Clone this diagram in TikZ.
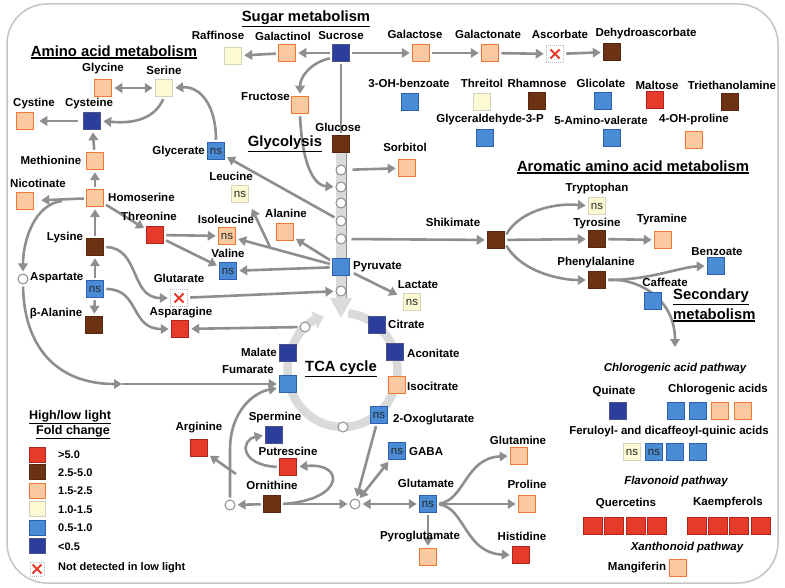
\documentclass[tikz,border=0pt]{standalone}
\usepackage{fontspec}
\setmainfont{Liberation Sans}
\usetikzlibrary{arrows.meta,calc,backgrounds}
\definecolor{cR}{HTML}{E63B2A}
\definecolor{cRd}{HTML}{B0241C}
\definecolor{cB}{HTML}{6B3314}
\definecolor{cBd}{HTML}{55280F}
\definecolor{cO}{HTML}{FAC9A0}
\definecolor{cOd}{HTML}{EF7A35}
\definecolor{cC}{HTML}{FCFAD3}
\definecolor{cCd}{HTML}{D5D3BC}
\definecolor{cL}{HTML}{4A8BD6}
\definecolor{cLd}{HTML}{2E60B0}
\definecolor{cD}{HTML}{2B3E9B}
\definecolor{cDd}{HTML}{4A5288}
\definecolor{ag}{HTML}{8E8E8E}
\definecolor{rg}{HTML}{DADADA}
\definecolor{bdc}{HTML}{C4C4C4}
\newcommand\myul[1]{\leavevmode\vtop{\hbox{#1}\kern1.2pt\hrule height 1.1pt}}
\tikzset{
 sq/.style={rectangle, minimum width=17.5pt, minimum height=17.5pt, inner sep=0pt, line width=1pt, font=\fontsize{11.5}{11}\selectfont, text=black!85},
 bR/.style={sq, fill=cR, draw=cRd},
 bB/.style={sq, fill=cB, draw=cBd},
 bO/.style={sq, fill=cO, draw=cOd},
 bC/.style={sq, fill=cC, draw=cCd},
 bL/.style={sq, fill=cL, draw=cLd},
 bD/.style={sq, fill=cD, draw=cDd},
 bX/.style={sq, fill=white, draw=gray!55, densely dotted,
   path picture={\draw[cR, line width=2pt, solid]
     ([shift={(-4.5,-4.5)}]path picture bounding box.center) -- ([shift={(4.5,4.5)}]path picture bounding box.center)
     ([shift={(-4.5,4.5)}]path picture bounding box.center) -- ([shift={(4.5,-4.5)}]path picture bounding box.center);}},
 lab/.style={inner sep=0pt, font=\bfseries\fontsize{11.5}{13}\selectfont},
 ttl/.style={inner sep=0pt, font=\bfseries\fontsize{14.8}{16}\selectfont},
 ital/.style={inner sep=0pt, font=\bfseries\itshape\fontsize{11.5}{13}\selectfont},
 lgt/.style={inner sep=0pt, anchor=west, font=\bfseries\fontsize{11}{13}\selectfont},
 cir/.style={circle, draw=ag, fill=white, line width=1pt, minimum size=10pt, inner sep=0pt},
 con/.style={draw=ag, line width=2.6pt, shorten <=2pt, shorten >=2pt},
 arr/.style={con, -{Triangle[length=8pt,width=9.5pt]}},
 darr/.style={con, {Triangle[length=8pt,width=9.5pt]}-{Triangle[length=8pt,width=9.5pt]}},
}
\begin{document}
\begin{tikzpicture}[x=1pt,y=-1pt]
\useasboundingbox (0,0) rectangle (785,588);
\draw[bdc, line width=1.5pt, rounded corners=40pt] (7,4) rectangle (778,583);

% ---------- titles
\node[ttl] (tSug) at (306,19) {\myul{Sugar metabolism}};
\node[ttl] (tAmi) at (114,52) {\myul{Amino acid metabolism}};
\node[ttl] (tGly) at (285,144) {\myul{Glycolysis}};
\node[ttl] (tTca) at (341,369) {\myul{TCA cycle}};
\node[ttl] (tAro) at (633,167) {\myul{Aromatic amino acid metabolism}};
\node[ttl, anchor=west] (tSec1) at (673,297) {\myul{Secondary}};
\node[ttl, anchor=west] (tSec2) at (673,315) {\myul{metabolism}};

% ---------- sugar
\node[bC] (raf) at (233,56) {};   \node[lab] (lraf) at (218,35) {Raffinose};
\node[bO] (gal) at (287,53) {};   \node[lab] (lgal) at (283,36) {Galactinol};
\node[bD] (suc) at (341,53) {};   \node[lab] (lsuc) at (341,36) {Sucrose};
\node[bO] (gla) at (421,53) {};   \node[lab] (lgla) at (415,34) {Galactose};
\node[bO] (galn) at (490,53) {};  \node[lab] (lgaln) at (488,34) {Galactonate};
\node[bX] (asc) at (555,54) {};   \node[lab] (lasc) at (560,34) {Ascorbate};
\node[bB] (dha) at (612,52) {};   \node[lab] (ldha) at (646,34) {Dehydroascorbate};
\node[bO] (fru) at (300,105) {};  \node[lab, anchor=east] (lfru) at (290,97) {Fructose};
\node[bB] (glc) at (341,144) {};  \node[lab] (lglc) at (338,127) {Glucose};
\node[bO] (sor) at (407,168) {};  \node[lab] (lsor) at (405,147) {Sorbitol};

% ---------- misc metabolites
\node[bL] (ohb) at (410,102) {};  \node[lab] (lohb) at (409,83) {3-OH-benzoate};
\node[bC] (thi) at (482,102) {};  \node[lab] (lthi) at (482,83) {Threitol};
\node[bB] (rha) at (537,101) {};  \node[lab] (lrha) at (537,83) {Rhamnose};
\node[bL] (gli) at (603,101) {};  \node[lab] (lgli) at (601,83) {Glicolate};
\node[bR] (mlt) at (655,100) {};  \node[lab] (lmlt) at (657,85) {Maltose};
\node[bB] (tea) at (730,102) {};  \node[lab] (ltea) at (732,85) {Triethanolamine};
\node[bL] (g3p) at (485,138) {};  \node[lab] (lg3p) at (490,120) {Glyceraldehyde-3-P};
\node[bL] (ava) at (612,138) {};  \node[lab] (lava) at (601,120) {5-Amino-valerate};
\node[bO] (ohp) at (694,140) {};  \node[lab] (lohp) at (694,120) {4-OH-proline};

% ---------- amino acids
\node[bO] (gly) at (103,88) {};   \node[lab] (lgly) at (103,69) {Glycine};
\node[bC] (ser) at (164,88) {};   \node[lab] (lser) at (164,70) {Serine};
\node[bO] (cyt) at (25,121) {};   \node[lab] (lcyt) at (34,104) {Cystine};
\node[bD] (cys) at (92,121) {};   \node[lab] (lcys) at (89,104) {Cysteine};
\node[bO] (met) at (95,161) {};   \node[lab] (lmet) at (51,160) {Methionine};
\node[bO] (nic) at (25,201) {};   \node[lab] (lnic) at (38,183) {Nicotinate};
\node[bO] (hom) at (95,198) {};   \node[lab, anchor=west] (lhom) at (108,197) {Homoserine};
\node[bL] (glyc) at (216,151) {ns}; \node[lab, anchor=east] (lglyc) at (205,152) {Glycerate};
\node[bC] (leu) at (240,194) {ns}; \node[lab] (lleu) at (231,176) {Leucine};
\node[bR] (thr) at (155,235) {};  \node[lab] (lthr) at (149,216) {Threonine};
\node[bO] (ile) at (227,236) {ns}; \node[lab] (lile) at (226,219) {Isoleucine};
\node[bL] (val) at (228,271) {ns}; \node[lab] (lval) at (228,253) {Valine};
\node[bB] (lys) at (95,247) {};   \node[lab] (llys) at (65,238) {Lysine};
\node[cir] (aspc) at (23,279) {}; \node[lab, anchor=west] (lasp) at (30,278) {Aspartate};
\node[bL] (asp) at (95,289) {ns};
\node[bB] (bal) at (94,325) {};   \node[lab] (lbal) at (56,314) {β-Alanine};
\node[bX] (xglu) at (179,298) {}; \node[lab] (lxglu) at (179,278) {Glutarate};
\node[bR] (asn) at (180,329) {};  \node[lab] (lasn) at (181,313) {Asparagine};
\node[bO] (ala) at (285,232) {};  \node[lab] (lala) at (286,213) {Alanine};

% ---------- glycolysis column
\node[cir] (c1) at (341,170) {};
\node[cir] (c2) at (341,187) {};
\node[cir] (c3) at (341,203) {};
\node[cir] (c4) at (341,221) {};
\node[cir] (c5) at (341,239) {};
\node[bL] (pyr) at (341,267) {};  \node[lab, anchor=west] (lpyr) at (353,267) {Pyruvate};
\node[cir] (c6) at (341,291) {};
\node[bC] (lac) at (412,302) {ns}; \node[lab] (llac) at (418,285) {Lactate};

% ---------- aromatic
\node[bB] (shi) at (496,240) {};  \node[lab] (lshi) at (453,222) {Shikimate};
\node[bC] (try) at (597,206) {ns}; \node[lab] (ltry) at (597,189) {Tryptophan};
\node[bB] (tyr) at (597,239) {};  \node[lab] (ltyr) at (597,224) {Tyrosine};
\node[bO] (tyra) at (663,240) {}; \node[lab] (ltyra) at (662,220) {Tyramine};
\node[bB] (phe) at (597,280) {};  \node[lab] (lphe) at (596,263) {Phenylalanine};
\node[bL] (ben) at (716,266) {};  \node[lab] (lben) at (717,252) {Benzoate};
\node[bL] (caf) at (653,301) {};  \node[lab] (lcaf) at (665,282) {Caffeate};
\coordinate (se) at (675,349);

% ---------- TCA
\coordinate (tca) at (342.5,370);
\node[bD] (cit) at (377,325) {};  \node[lab, anchor=west] (lcit) at (388,324) {Citrate};
\node[bD] (aco) at (395,352) {};  \node[lab, anchor=west] (laco) at (407,353) {Aconitate};
\node[bO] (iso) at (397,385) {};  \node[lab, anchor=west] (liso) at (407,386) {Isocitrate};
\node[bL] (og) at (379,415) {ns}; \node[lab, anchor=west] (log) at (393,420) {2-Oxoglutarate};
\node[bD] (mal) at (288,353) {};  \node[lab, anchor=east] (lmal) at (277,352) {Malate};
\node[bL] (fum) at (288,384) {};  \node[lab, anchor=east] (lfum) at (274,370) {Fumarate};
\node[cir] (rc1) at (305,327) {};
\node[cir] (rc2) at (343,427) {};

% ---------- bottom
\node[bR] (arg) at (199,448) {};  \node[lab] (larg) at (199,428) {Arginine};
\node[bD] (spm) at (274,435) {};  \node[lab] (lspm) at (275,418) {Spermine};
\node[bR] (put) at (288,467) {};  \node[lab] (lput) at (288,451) {Putrescine};
\node[bB] (orn) at (272,504) {};  \node[lab] (lorn) at (272,485) {Ornithine};
\node[cir] (lc) at (230,505) {};
\node[cir] (mc) at (355,504) {};
\node[bL] (gaba) at (397,451) {ns}; \node[lab, anchor=west] (lgaba) at (409,452) {GABA};
\node[bL] (glm) at (428,504) {ns}; \node[lab] (lglm) at (426,483) {Glutamate};
\node[bO] (pyg) at (428,557) {};  \node[lab] (lpyg) at (420,537) {Pyroglutamate};
\node[bO] (gln) at (519,456) {};  \node[lab] (lgln) at (518,440) {Glutamine};
\node[bO] (pro) at (527,504) {};  \node[lab] (lpro) at (527,484) {Proline};
\node[bR] (his) at (521,555) {};  \node[lab] (lhis) at (522,536) {Histidine};

% ---------- secondary metabolism
\node[ital] (tchl) at (675,369) {Chlorogenic acid pathway};
\node[lab] (lqui) at (614,391) {Quinate};
\node[bD] (qui) at (618,411) {};
\node[lab] (lcha) at (718,390) {Chlorogenic acids};
\node[bL] (ch1) at (676,411) {};
\node[bL] (ch2) at (698,411) {};
\node[bO] (ch3) at (720,411) {};
\node[bO] (ch4) at (743,411) {};
\node[lab] (lfq) at (669,432) {Feruloyl- and dicaffeoyl-quinic acids};
\node[bC] (fq1) at (632,452) {ns};
\node[bL] (fq2) at (654,452) {ns};
\node[bL] (fq3) at (675,452) {};
\node[bL] (fq4) at (698,452) {};
\node[ital] (tfla) at (676,482) {Flavonoid pathway};
\node[lab] (lque) at (626,503) {Quercetins};
\node[lab] (lkae) at (728,503) {Kaempferols};
\foreach \i/\xx in {1/593,2/614,3/636,4/657}
  \node[bR, minimum width=19pt] (q\i) at (\xx,526) {};
\foreach \i/\xx in {1/697,2/718,3/739,4/761}
  \node[bR, minimum width=19pt] (k\i) at (\xx,526) {};
\node[ital] (txan) at (687,548) {Xanthonoid pathway};
\node[lab] (lman) at (637,568) {Mangiferin};
\node[bO] (man) at (678,568) {};

% ---------- legend
\node[inner sep=0pt, font=\bfseries\fontsize{12.5}{14}\selectfont] (lg0a) at (70,417) {\myul{High/low light}};
\node[inner sep=0pt, font=\bfseries\fontsize{12.5}{14}\selectfont] (lg0b) at (73,432) {\myul{Fold change}};
\node[bR, minimum width=16pt, minimum height=15pt] (lg1) at (37,455) {}; \node[lgt] (lt1) at (58,455) {>5.0};
\node[bB, minimum width=16pt, minimum height=15pt] (lg2) at (37,472) {}; \node[lgt] (lt2) at (58,473) {2.5-5.0};
\node[bO, minimum width=16pt, minimum height=15pt] (lg3) at (37,491) {}; \node[lgt] (lt3) at (58,491) {1.5-2.5};
\node[bC, minimum width=16pt, minimum height=15pt] (lg4) at (37,509) {}; \node[lgt] (lt4) at (58,510) {1.0-1.5};
\node[bL, minimum width=16pt, minimum height=15pt] (lg5) at (37,528) {}; \node[lgt] (lt5) at (58,528) {0.5-1.0};
\node[bD, minimum width=16pt, minimum height=15pt] (lg6) at (37,546) {}; \node[lgt] (lt6) at (58,547) {<0.5};
\node[bX, minimum width=14pt, minimum height=14pt] (lg7) at (37,569) {}; \node[lgt] (lt7) at (58,568) {Not detected in low light};

% ---------- connectors (behind)
\begin{scope}[on background layer]
\fill[rg] (335.5,152) rectangle (346.5,299);
\draw[ag, line width=0.8pt] (346.5,152) -- (346.5,299);
\fill[rg] (330,298) -- (352,298) -- (341,318) -- cycle;
\draw[rg, line width=8.5pt, -{Triangle[length=10pt,width=18pt]}] ([shift={(-84:55 and 57)}]tca) arc[start angle=-84, end angle=250, x radius=55, y radius=57];

% sugar
\draw[arr] (suc) -- (gal);
\draw[arr] (gal) -- (raf);
\draw[arr] (suc) -- (gla);
\draw[arr] (gla) -- (galn);
\draw[arr] (galn) -- (asc);
\draw[arr] (asc) -- (dha);
\draw[con] (suc) -- (glc);
\draw[arr] ($(suc.west)+(0,5)$) .. controls (312,62) and (300,76) .. (fru.north);
\draw[arr] (fru.south) .. controls (302,160) and (312,185) .. (c2.west);
\draw[arr, shorten <=6pt] (c1) -- (sor);
\draw[arr] (c4) -- (glyc);
\draw[arr, shorten <=5pt] (c5) -- (shi);

% pyruvate
\draw[arr] (pyr) -- (ala);
\draw[arr] (pyr) -- (ile);
\draw[arr] (pyr) -- (val);
\draw[arr, shorten <=4pt, shorten >=6pt] (pyr) -- (lac);
\coordinate (lbs) at (270,247);
\coordinate (lbe) at (251,207);
\draw[arr, shorten <=0pt] (lbs) -- (lbe);

% amino acids
\draw[arr] (glyc.north) .. controls (216,105) and (200,86) .. (ser.east);
\draw[arr] (ser.south) .. controls (155,118) and (135,124) .. (cys.east);
\draw[darr] (gly) -- (ser);
\draw[arr, shorten <=5pt, shorten >=5pt] (cys) -- (cyt);
\draw[arr] (hom) -- (met);
\draw[arr] (met) -- (cys);
\draw[arr, shorten >=7pt] (hom) -- (nic);
\draw[arr] (hom) -- (thr);
\draw[arr] (lys) -- (hom);
\draw[arr] (asp) -- (lys);
\draw[arr] (asp) -- (bal);
\draw[arr] (thr) -- (ile);
\draw[arr] (thr) -- (val);
\draw[arr] (lys.east) .. controls (140,248) and (130,298) .. (xglu.west);
\draw[arr] (asp.east) .. controls (140,289) and (130,329) .. (asn.west);
\draw[arr] (xglu) -- (c6);
\draw[arr] (rc1) -- (asn);
\coordinate (hb) at (62,201);
\draw[arr, shorten <=0pt] (hb) .. controls (35,204) and (23,240) .. (aspc.north);
\coordinate (am) at (122,384);
\draw[arr, shorten >=0pt] (aspc.south) .. controls (24,345) and (55,384) .. (am);
\draw[arr, shorten <=0pt] (am) -- (fum.west);

% bottom
\draw[arr] (orn) -- (lc);
\coordinate (lv) at (230,450);
\draw[arr] (lc.north) -- (lv) .. controls (230,410) and (255,392) .. ($(fum.west)+(0,4)$);
\coordinate (ags) at (236,474);
\draw[arr, shorten <=0pt] (ags) -- (arg);
\draw[arr] (orn.east) .. controls (345,500) and (345,462) .. (put.east);
\draw[arr] (put.west) .. controls (240,465) and (240,440) .. (spm.west);
\draw[arr] (orn) -- (mc);
\draw[arr] (og) -- (mc);
\draw[darr] (mc) -- (gaba);
\draw[darr] (mc) -- (glm);
\draw[arr] (glm) -- (pyg);
\draw[arr] (glm.east) .. controls (465,500) and (465,458) .. (gln.west);
\draw[arr] (glm) -- (pro);
\draw[arr] (glm.east) .. controls (465,508) and (465,553) .. (his.west);

% aromatic
\draw[arr] ($(shi.east)+(0,-4)$) .. controls (522,208) and (560,203) .. (try.west);
\draw[arr] (shi) -- (tyr);
\draw[arr] ($(shi.east)+(0,4)$) .. controls (522,272) and (560,280) .. (phe.west);
\draw[arr] (tyr) -- (tyra);
\draw[arr] (phe.east) .. controls (650,280) and (680,267) .. (ben.west);
\draw[arr] (phe.east) .. controls (640,278) and (675,300) .. (se);
\end{scope}
\end{tikzpicture}
\end{document}
